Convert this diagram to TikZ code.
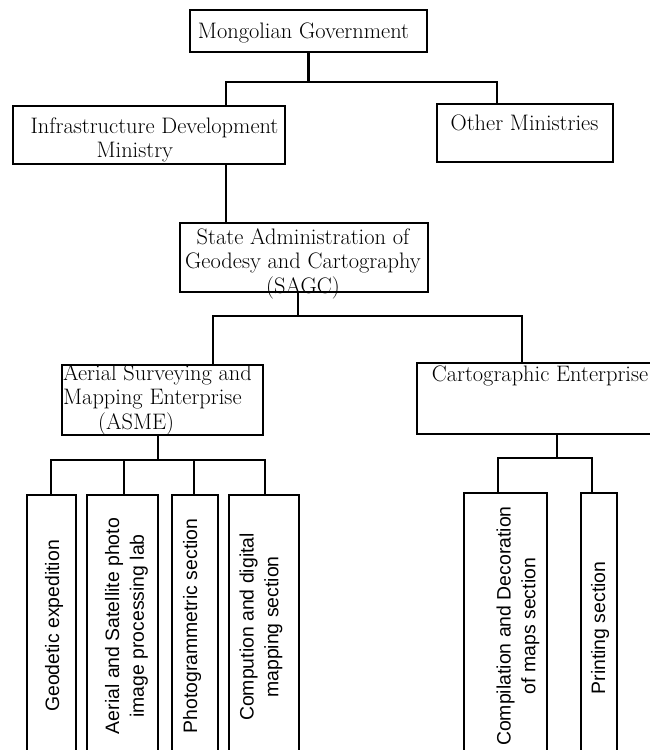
\documentclass[tikz,border=0pt]{standalone}
\usepackage{fontspec}
\newfontfamily\secfont{Liberation Sans}
\begin{document}
\begin{tikzpicture}[x=1bp,y=-1bp,
  box/.style={draw, line width=1.8bp, inner sep=0, outer sep=0},
  secbox/.style={draw, line width=2.4bp, inner sep=0, outer sep=0},
  conn/.style={line width=2.6bp},
  serif/.style={font=\fontsize{22.5}{24.5}\selectfont, inner sep=0},
  sans/.style={font=\secfont\fontsize{19.5}{25}\selectfont, inner sep=0, rotate=90, align=center}]
\useasboundingbox (0,0) rectangle (650,750);
\clip (0,0) rectangle (650,750);

% boxes
\node[box, minimum width=237bp, minimum height=42bp] (gov) at (308.5,31) {};
\node[box, minimum width=272bp, minimum height=58bp] (infra) at (149,135) {};
\node[box, minimum width=176bp, minimum height=58bp] (other) at (525,133) {};
\node[box, minimum width=248bp, minimum height=69bp] (sagc) at (304,257.5) {};
\node[box, minimum width=201bp, minimum height=70bp] (asme) at (162.5,400) {};
\node[box, minimum width=243bp, minimum height=71bp] (carto) at (538.5,398.5) {};

\node[secbox, minimum width=49bp, minimum height=265bp] (s1) at (51.5,627.5) {};
\node[secbox, minimum width=71bp, minimum height=265bp] (s2) at (122.5,627.5) {};
\node[secbox, minimum width=46bp, minimum height=265bp] (s3) at (195,627.5) {};
\node[secbox, minimum width=70bp, minimum height=265bp] (s4) at (264,627.5) {};
\node[secbox, minimum width=83bp, minimum height=267bp] (s5) at (505.5,626.5) {};
\node[secbox, minimum width=36bp, minimum height=267bp] (s6) at (599,626.5) {};

% texts
\node[serif, anchor=base] (tgov) at (303.5,38.5) {Mongolian Government};
\node[serif, align=left] (tinfra) at (154.5,140) {Infrastructure Development\\\hspace*{66bp}Ministry};
\node[serif, anchor=base] (tother) at (524.5,130) {Other Ministries};
\node[serif, align=center] (tsagc) at (303,263.5) {State Administration of\\Geodesy and Cartography\\(SAGC)};
\node[serif, align=left] (tasme) at (157.5,399.5) {Aerial Surveying and\\Mapping Enterprise\\\hspace*{35bp}(ASME)};
\node[serif, anchor=base] (tcarto) at (540,381) {Cartographic Enterprise};

\node[sans] (ts1) at (54,626) {Geodetic expedition};
\node[sans] (ts2) at (126.5,626) {Aerial and Satellite photo\\image processing lab};
\node[sans] (ts3) at (192,626) {Photogrammetric section};
\node[sans] (ts4) at (261,627) {Compution and digital\\mapping section};
\node[sans] (ts5) at (518,626) {Compilation and Decoration\\of maps section};
\node[sans] (ts6) at (600,628) {Printing section};

% connectors
\coordinate (b1l) at (226,82); \coordinate (b1r) at (497,82);
\draw[conn] (gov.south) -- (gov.south |- b1l);
\draw[conn] (infra.north -| b1l) |- (b1r) -- (other.north -| b1r);
\draw[conn] (infra.south -| b1l) -- (sagc.north -| b1l);

\coordinate (b2l) at (213,316); \coordinate (b2r) at (522,316); \coordinate (b2s) at (298,316);
\draw[conn] (sagc.south -| b2s) -- (b2s);
\draw[conn] (asme.north -| b2l) |- (b2r) -- (carto.north -| b2r);

\coordinate (b3l) at (51,460); \coordinate (b3r) at (265,460); \coordinate (b3s) at (158,460);
\coordinate (b3b) at (124,460); \coordinate (b3c) at (194,460);
\draw[conn] (asme.south -| b3s) -- (b3s);
\draw[conn] (s1.north -| b3l) |- (b3r) -- (s4.north -| b3r);
\draw[conn] (b3b) -- (s2.north -| b3b);
\draw[conn] (b3c) -- (s3.north -| b3c);

\coordinate (b4s) at (557,458); \coordinate (b4l) at (498,458); \coordinate (b4r) at (592,458);
\draw[conn] (carto.south -| b4s) -- (b4s);
\draw[conn] (s5.north -| b4l) |- (b4r) -- (s6.north -| b4r);
\end{tikzpicture}
\end{document}
